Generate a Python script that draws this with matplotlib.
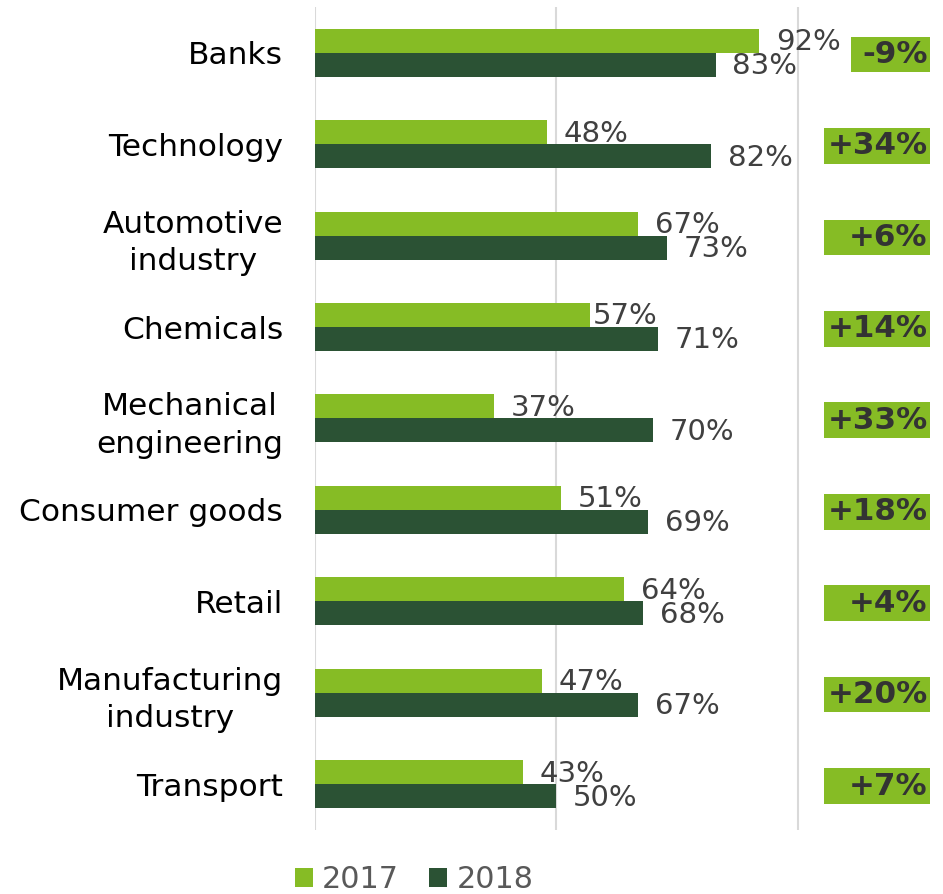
import matplotlib
matplotlib.use("Agg")
import matplotlib.pyplot as plt
from matplotlib.patches import Rectangle

# Share of respondents per industry, 2017 vs 2018 (%)
categories = ["Banks", "Technology", "Automotive\nindustry", "Chemicals",
              "Mechanical\nengineering", "Consumer goods", "Retail",
              "Manufacturing\nindustry", "Transport"]
values_2017 = [92, 48, 67, 57, 37, 51, 64, 47, 43]
values_2018 = [83, 82, 73, 71, 70, 69, 68, 67, 50]
series_labels = ["2017", "2018"]

LIGHT = "#86BC25"
DARK = "#2B5234"
VALUE_TXT = "#404040"
BOX_TXT = "#333333"
GRID = "#D9D9D9"

plt.rcParams["font.family"] = ["DejaVu Sans"]

fig = plt.figure(figsize=(9.43, 8.94), dpi=100)
ax = fig.add_axes([0.3340, 0.0716, 0.6554, 0.9206])

n = len(categories)
ypos = list(range(n))
h = 0.2626

b17 = ax.barh([y - h / 2 for y in ypos], values_2017, height=h, color=LIGHT,
              label=series_labels[0], zorder=3)
b18 = ax.barh([y + h / 2 for y in ypos], values_2018, height=h, color=DARK,
              label=series_labels[1], zorder=3)

ax.set_xlim(0, 128)
ax.set_ylim(n - 0.5, -0.5)

# vertical gridlines at 0, 50, 100
for gx in (0, 50, 100):
    ax.axvline(gx, color=GRID, lw=1.5, zorder=1)

for s in ax.spines.values():
    s.set_visible(False)
ax.set_xticks([])
ax.set_yticks(ypos)
ax.set_yticklabels(categories, fontsize=22.5, color="black",
                   multialignment="center", linespacing=1.35)
ax.tick_params(axis="y", length=0, pad=23)

# value labels (Chemicals 2017 sits right against its bar)
close_offsets = {(3, 0): 1.5}
for i, (v17, v18) in enumerate(zip(values_2017, values_2018)):
    for j, (v, yy) in enumerate(((v17, i - h / 2), (v18, i + h / 2))):
        dx = close_offsets.get((i, j), 12)
        ax.annotate(f"{v}%", xy=(v, yy), xytext=(dx, -1), textcoords="offset points",
                    ha="left", va="center", fontsize=21, color=VALUE_TXT,
                    zorder=4, annotation_clip=False)

# change boxes on the right
box_right = 127.3
box_h = 0.39
for i, (v17, v18) in enumerate(zip(values_2017, values_2018)):
    d = v18 - v17
    left = 111.0 if d < 0 else 105.4
    ax.add_patch(Rectangle((left, i - box_h / 2 + 0.02), box_right - left, box_h,
                           facecolor=LIGHT, edgecolor="none", zorder=3,
                           clip_on=False))
    ax.text(box_right - 0.4, i + 0.02, f"{d:+d}%", ha="right", va="center",
            fontsize=22.3, fontweight="bold", color=BOX_TXT, zorder=4,
            clip_on=False)

leg = fig.legend(handles=[b17, b18], labels=series_labels, loc="center",
                 bbox_to_anchor=(414 / 943, 1 - 880 / 894), ncol=2, frameon=False,
                 fontsize=21.8, handlelength=0.6, handleheight=0.6,
                 handletextpad=0.3, columnspacing=1.0)
for t in leg.get_texts():
    t.set_color("#595959")

fig.savefig("out.png", dpi=100)
